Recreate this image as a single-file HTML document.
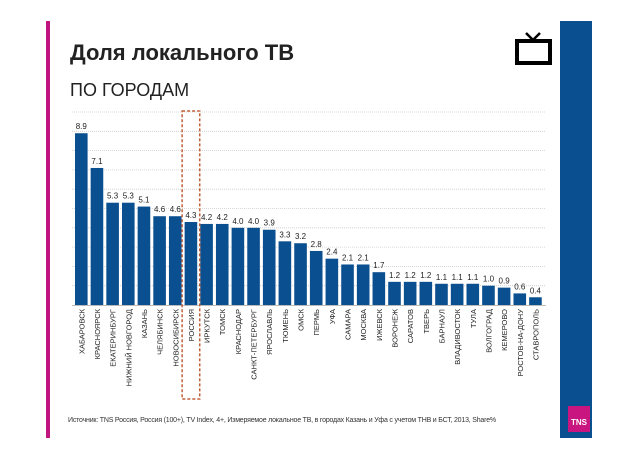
<!DOCTYPE html>
<html><head><meta charset="utf-8"><style>
body{margin:0;background:#fff;font-family:"Liberation Sans","DejaVu Sans",sans-serif}
#root{position:relative;width:638px;height:451px;overflow:hidden;background:#fff}
</style></head><body>
<div id="root">
<div style="position:absolute;left:46px;top:21px;width:4px;height:417px;background:#c0157f"></div>
<div style="position:absolute;left:560px;top:21px;width:32px;height:417px;background:#0a4f8f"></div>
<div style="position:absolute;left:568px;top:406px;width:22px;height:26px;background:#c8157f;color:#fff;font-size:8px;font-weight:bold;text-align:center;line-height:34px">TNS</div>
<div style="position:absolute;left:70px;top:40px;font-size:22px;font-weight:bold;color:#222">Доля локального ТВ</div>
<div style="position:absolute;left:70px;top:80px;font-size:18px;color:#222">ПО ГОРОДАМ</div>
<svg style="position:absolute;left:514px;top:30px" width="42" height="40"><rect x="3" y="11" width="33" height="22" fill="none" stroke="#000" stroke-width="4"/><path d="M12 3 L19 10 L26 3" fill="none" stroke="#000" stroke-width="2.5"/></svg>
<div style="position:absolute;left:68px;top:417px;font-size:7px;color:#333;letter-spacing:-0.2px">Источник: TNS Россия,  Россия (100+), TV Index,  4+, Измеряемое локальное ТВ, в городах Казань и Уфа с учетом ТНВ и БСТ, 2013, Share%</div>
<svg id="chart" style="position:absolute;left:0;top:0" width="638" height="451"></svg>
</div>
<script>
const categories=["ХАБАРОВСК","КРАСНОЯРСК","ЕКАТЕРИНБУРГ","НИЖНИЙ НОВГОРОД","КАЗАНЬ","ЧЕЛЯБИНСК","НОВОСИБИРСК","РОССИЯ","ИРКУТСК","ТОМСК","КРАСНОДАР","САНКТ-ПЕТЕРБУРГ","ЯРОСЛАВЛЬ","ТЮМЕНЬ","ОМСК","ПЕРМЬ","УФА","САМАРА","МОСКВА","ИЖЕВСК","ВОРОНЕЖ","САРАТОВ","ТВЕРЬ","БАРНАУЛ","ВЛАДИВОСТОК","ТУЛА","ВОЛГОГРАД","КЕМЕРОВО","РОСТОВ-НА-ДОНУ","СТАВРОПОЛЬ"];
const values=[8.9,7.1,5.3,5.3,5.1,4.6,4.6,4.3,4.2,4.2,4.0,4.0,3.9,3.3,3.2,2.8,2.4,2.1,2.1,1.7,1.2,1.2,1.2,1.1,1.1,1.1,1.0,0.9,0.6,0.4];
const gridTicks=[1,2,3,4,5,6,7,8,9,10];
const highlight="РОССИЯ";
const svg=document.getElementById('chart');const NS="http://www.w3.org/2000/svg";
const x0=75,pitch=15.66,bw=12.6,base=305,unit=19.3;
const y=v=>base-v*unit;const x=i=>x0+i*pitch;
function mk(t,a){const e=document.createElementNS(NS,t);for(const k in a)e.setAttribute(k,a[k]);svg.appendChild(e);return e;}
gridTicks.forEach(t=>{const g=mk('line',{x1:72,x2:546,y1:y(t),y2:y(t),stroke:'#ccc','stroke-width':0.8,'stroke-dasharray':'1,1'});

});
const ax=mk('line',{x1:72,x2:546,y1:base+0.5,y2:base+0.5,stroke:'#bbb','stroke-width':1});


categories.forEach((c,i)=>{
const r=mk('rect',{x:x(i),y:y(values[i]),width:bw,height:values[i]*unit,fill:'#0a4f8f'});


const v=mk('text',{x:x(i)+bw/2,y:y(values[i])-4,'text-anchor':'middle','font-size':8,fill:'#222'});v.textContent=values[i].toFixed(1);


const cx=x(i)+bw/2+3;
const l=mk('text',{x:cx,y:309,'text-anchor':'end','font-size':7.5,fill:'#222',transform:`rotate(-90 ${cx} 309)`});l.textContent=c;


});
const hi=categories.indexOf(highlight);
const hb=mk('rect',{x:x(hi)-2.5,y:111,width:bw+5,height:288,fill:'none',stroke:'#c0603a','stroke-width':1.5,'stroke-dasharray':'3,2'});


</script>
</body></html>
